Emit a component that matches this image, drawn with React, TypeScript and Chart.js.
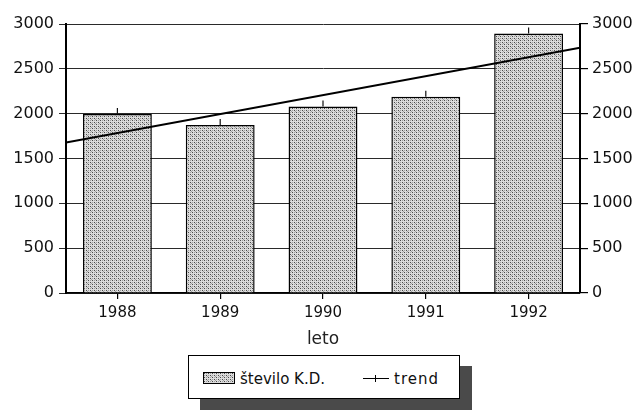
import React, { useEffect, useRef } from "react";
import { Chart, registerables } from "chart.js";
Chart.register(...registerables);

const years = ["1988", "1989", "1990", "1991", "1992"];
const steviloKD = [1995, 1875, 2080, 2190, 2895];
// trend line values read at the left and right edge of the plot
const trendEdgeValues = [1678, 2736];
const trendEdgePositions = [-0.5, 4.5];
const yMin = 0;
const yMax = 3000;
const yStep = 500;
const xTitle = "leto";
const barLabel = "število K.D.";
const trendLabel = "trend";

const FONT = "'DejaVu Sans', sans-serif";

function makePatternCanvas() {
  const c = document.createElement("canvas");
  c.width = 4;
  c.height = 4;
  const g = c.getContext("2d")!;
  g.fillStyle = "#dcdcdc";
  g.fillRect(0, 0, 4, 4);
  g.fillStyle = "#4a4a4a";
  g.fillRect(0, 0, 1, 1);
  g.fillRect(2, 2, 1, 1);
  g.fillStyle = "#a0a0a0";
  g.fillRect(2, 0, 1, 1);
  g.fillRect(0, 2, 1, 1);
  g.fillRect(3, 3, 1, 1);
  return c;
}

const errTicks = {
  id: "errTicks",
  afterDatasetsDraw(chart: any) {
    const ctx = chart.ctx;
    chart.data.datasets.forEach((ds: any, i: number) => {
      if (ds.type !== "bar") return;
      const meta = chart.getDatasetMeta(i);
      ctx.save();
      ctx.strokeStyle = "#111";
      ctx.lineWidth = 1.2;
      meta.data.forEach((el: any) => {
        const { x, y } = el.getProps(["x", "y"], true);
        ctx.beginPath();
        ctx.moveTo(x, y);
        ctx.lineTo(x, y - 6);
        ctx.stroke();
      });
      ctx.restore();
    });
  },
};

const plainNum = (v: any) => String(v);

export default function App() {
  const ref = useRef<HTMLCanvasElement>(null);
  const swatch = useRef<HTMLDivElement>(null);

  useEffect(() => {
    const pc = makePatternCanvas();
    const ctx = ref.current!.getContext("2d")!;
    const pattern = ctx.createPattern(pc, "repeat");
    if (swatch.current) swatch.current.style.backgroundImage = `url(${pc.toDataURL()})`;

    const chart = new Chart(ref.current!, {
      type: "bar",
      data: {
        labels: years,
        datasets: [
          {
            type: "line",
            label: trendLabel,
            data: trendEdgePositions.map((x, i) => ({ x, y: trendEdgeValues[i] })) as any,
            xAxisID: "x2",
            yAxisID: "y",
            borderColor: "#000",
            borderWidth: 2,
            pointRadius: 0,
            fill: false,
            order: 1,
          } as any,
          {
            type: "bar",
            label: barLabel,
            data: steviloKD,
            xAxisID: "x",
            yAxisID: "y",
            backgroundColor: pattern as any,
            borderColor: "#000",
            borderWidth: 1.5,
            barPercentage: 0.67,
            categoryPercentage: 1,
            grouped: false,
            order: 2,
          } as any,
        ],
      },
      options: {
        responsive: false,
        animation: false,
        layout: { padding: { top: 24, left: 0, right: 0, bottom: 0 } },
        plugins: { legend: { display: false }, tooltip: { enabled: false } },
        scales: {
          x: {
            type: "category",
            position: "bottom",
            offset: true,
            grid: { display: true, drawOnChartArea: false, drawTicks: true, tickLength: 6, offset: false, color: "#000", lineWidth: 1.2 },
            border: { display: true, color: "#000", width: 1.5 },
            ticks: { font: { family: FONT, size: 15 }, color: "#111", padding: 5 },
            title: { display: true, text: xTitle, font: { family: FONT, size: 17 }, color: "#222", padding: { top: 0, bottom: 0 } },
            afterFit: (s: any) => { s.height = 57; },
          },
          x2: {
            type: "linear",
            display: false,
            offset: false,
            grid: { offset: false },
            min: trendEdgePositions[0],
            max: trendEdgePositions[1],
          },
          y: {
            position: "left",
            min: yMin,
            max: yMax,
            ticks: { stepSize: yStep, font: { family: FONT, size: 16 }, color: "#111", padding: 5, callback: plainNum },
            grid: { color: "#2a2a2a", lineWidth: 1, tickLength: 7, drawTicks: true },
            border: { display: true, color: "#000", width: 2 },
            afterFit: (s: any) => { s.width = 66; },
          },
          y2: {
            position: "right",
            min: yMin,
            max: yMax,
            ticks: { stepSize: yStep, font: { family: FONT, size: 16 }, color: "#111", padding: 4, callback: plainNum },
            grid: { drawOnChartArea: false, tickLength: 8, color: "#000", lineWidth: 1.2 },
            border: { display: true, color: "#000", width: 2 },
            afterFit: (s: any) => { s.width = 56; },
          },
        },
      },
      plugins: [errTicks],
    });
    return () => chart.destroy();
  }, []);

  return (
    <div style={{ position: "fixed", left: 0, top: 0, width: 636, height: 410, background: "#fff", overflow: "hidden" }}>
      <canvas ref={ref} width={636} height={350} style={{ display: "block", width: 636, height: 350 }} />
      <div
        style={{
          position: "absolute",
          left: 188,
          top: 355,
          width: 272,
          height: 44,
          boxSizing: "border-box",
          border: "1.5px solid #000",
          background: "#fff",
          boxShadow: "12px 11px 0 #4a4a4a",
          fontFamily: FONT,
          fontSize: 15,
          color: "#111",
        }}
      >
        <div
          ref={swatch}
          style={{ position: "absolute", left: 14, top: 16, width: 32, height: 12, boxSizing: "border-box", border: "1px solid #000", background: "#c8c8c8" }}
        />
        <div style={{ position: "absolute", left: 51, top: 14, lineHeight: "18px", whiteSpace: "nowrap" }}>{barLabel}</div>
        <div style={{ position: "absolute", left: 174, top: 22, width: 26, height: 0, borderTop: "1.5px solid #000" }} />
        <div style={{ position: "absolute", left: 186, top: 19, width: 0, height: 7, borderLeft: "1.2px solid #000" }} />
        <div style={{ position: "absolute", left: 205, top: 14, lineHeight: "18px", whiteSpace: "nowrap", letterSpacing: 1 }}>{trendLabel}</div>
      </div>
    </div>
  );
}
